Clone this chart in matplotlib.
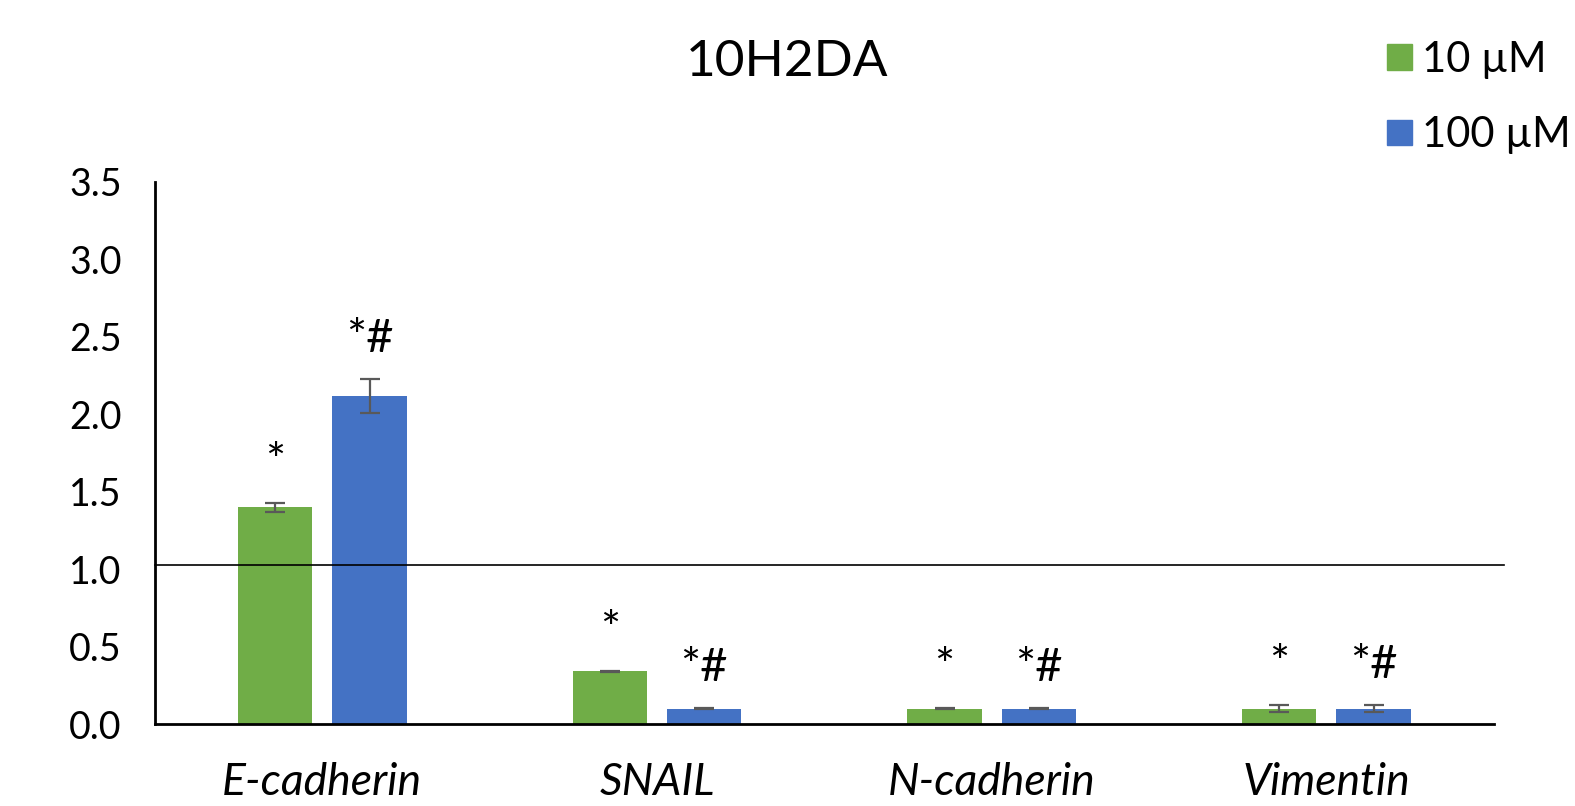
import matplotlib
matplotlib.use("Agg")
import matplotlib.pyplot as plt
from matplotlib.patches import Patch
import numpy as np

plt.rcParams['font.family'] = ['Lato', 'DejaVu Sans']

genes = ["E-cadherin", "SNAIL", "N-cadherin", "Vimentin"]
low_dose = [1.40, 0.34, 0.10, 0.10]
low_err = [0.03, 0.005, 0.005, 0.025]
high_dose = [2.12, 0.10, 0.10, 0.10]
high_err = [0.11, 0.005, 0.005, 0.025]
low_marks = ["*", "*", "*", "*"]
high_marks = ["*#", "*#", "*#", "*#"]

green = "#70AD47"
blue = "#4472C4"

fig = plt.figure(figsize=(15.75, 8.06), dpi=100)
ax = fig.add_axes([0.0984, 0.1017, 0.850, 0.6725])

x = np.arange(len(genes))
w = 0.222
off = 0.141
err_kw = dict(ecolor="#595959", elinewidth=1.6, capsize=7, capthick=1.6)
ax.bar(x - off, low_dose, w, yerr=low_err, color=green, error_kw=err_kw, zorder=2)
ax.bar(x + off, high_dose, w, yerr=high_err, color=blue, error_kw=err_kw, zorder=2)

for i in range(len(genes)):
    ax.annotate(low_marks[i], (x[i] - off, low_dose[i] + low_err[i]),
                xytext=(0, 19), textcoords="offset points",
                ha="center", va="baseline", fontsize=34)
    ax.annotate(high_marks[i], (x[i] + off, high_dose[i] + high_err[i]),
                xytext=(0, 19), textcoords="offset points",
                ha="center", va="baseline", fontsize=34)

# reference line (control = 1)
ax.plot([0, 1.008], [1.03, 1.03], transform=ax.get_yaxis_transform(),
        color="black", lw=1.2, clip_on=False, zorder=3)

ax.set_xlim(-0.5, 3.5)
ax.set_ylim(0, 3.5)
ax.set_yticks(np.arange(0, 3.51, 0.5))
ax.set_yticklabels([f"{v:.1f}" for v in np.arange(0, 3.51, 0.5)], fontsize=27)
ax.set_xticks(x)
ax.set_xticklabels(genes, fontsize=32, style="italic")
ax.tick_params(length=0)
ax.tick_params(axis="y", pad=24)
ax.tick_params(axis="x", pad=27)
for s in ["top", "right"]:
    ax.spines[s].set_visible(False)
for s in ["left", "bottom"]:
    ax.spines[s].set_linewidth(2)

fig.text(0.5, 0.923, "10H2DA", ha="center", va="center", fontsize=37)

handles = [Patch(color=green, label="10 µM"), Patch(color=blue, label="100 µM")]
fig.legend(handles=handles, loc="upper right", bbox_to_anchor=(1.021, 0.996),
           frameon=False, fontsize=30, labelspacing=0.9, handlelength=0.58,
           handleheight=0.58, handletextpad=0.25)

fig.savefig("out.png", dpi=100)
